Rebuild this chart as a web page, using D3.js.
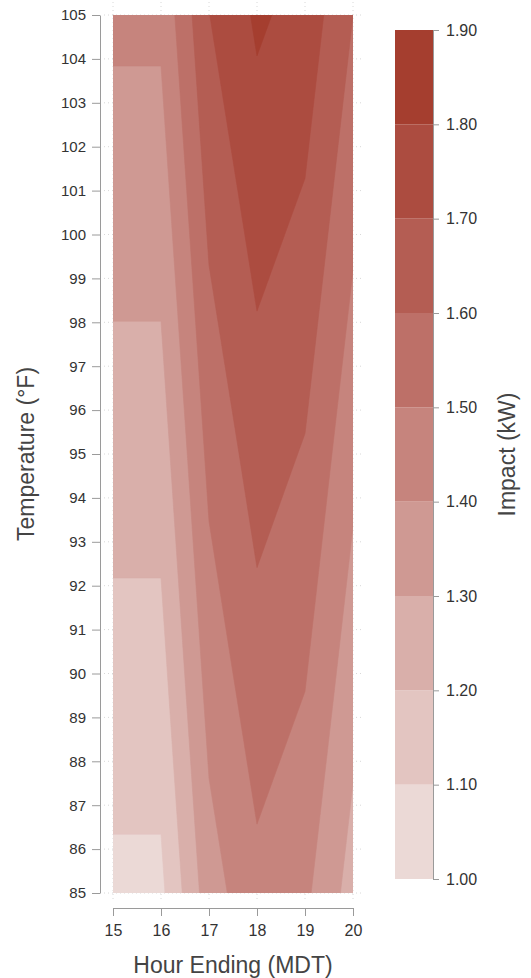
<!DOCTYPE html>
<html>
<head>
<meta charset="utf-8">
<script src="https://cdn.jsdelivr.net/npm/d3@7"></script>
<style>
  body { margin: 0; background: #fff; }
  svg { display: block; font-family: "Liberation Sans", Arial, sans-serif; }
  .tick text { fill: #333; }
</style>
</head>
<body>
<svg id="chart" width="531" height="978"></svg>
<script>
// grid of the contour: hour ending (x) by temperature (y)
const hours = [15, 16, 17, 18, 19, 20];
const temps = [85, 90, 95, 100, 105];

// impact (kW) for each temperature row, one value per hour
const impact85  = [1.077, 1.077, 1.355, 1.473, 1.421, 1.257];
const impact90  = [1.163, 1.163, 1.441, 1.559, 1.507, 1.343];
const impact95  = [1.248, 1.248, 1.526, 1.644, 1.592, 1.428];
const impact100 = [1.334, 1.334, 1.612, 1.730, 1.678, 1.514];
const impact105 = [1.420, 1.420, 1.698, 1.816, 1.764, 1.600];
const impactRows = [impact85, impact90, impact95, impact100, impact105];

// contour levels and band colours (lowest band first)
const levels = [1.0, 1.1, 1.2, 1.3, 1.4, 1.5, 1.6, 1.7, 1.8, 1.9];
const bandColors = ["#ebd9d6", "#e3c5c1", "#d9afaa", "#cf9993", "#c6847d",
                    "#bd7068", "#b45d53", "#ac4c40", "#a53e2f"];

const xTicks = [15, 16, 17, 18, 19, 20];
const yTicks = d3.range(85, 106);
const legendTicks = [1.0, 1.1, 1.2, 1.3, 1.4, 1.5, 1.6, 1.7, 1.8, 1.9];

const svg = d3.select("#chart");

const x = d3.scaleLinear().domain([15, 20]).range([113, 353]);
const y = d3.scaleLinear().domain([85, 105]).range([893, 15]);

// dotted panel grid (only shows around the edges of the filled area)
const grid = svg.append("g");
grid.selectAll("line.vg").data(xTicks).join("line")
  .attr("x1", d => x(d)).attr("x2", d => x(d))
  .attr("y1", 2).attr("y2", 902)
  .attr("stroke", "#d8d8d8").attr("stroke-dasharray", "1,3");
grid.selectAll("line.hg").data(yTicks).join("line")
  .attr("x1", 104).attr("x2", 362)
  .attr("y1", d => y(d)).attr("y2", d => y(d))
  .attr("stroke", "#d8d8d8").attr("stroke-dasharray", "1,3");

// resample the coarse grid bilinearly so d3.contours draws straight-edged bands
const nx = 241, ny = 401;
function interp(h, t) {
  let i = Math.min(hours.length - 2, d3.bisectRight(hours, h) - 1);
  let j = Math.min(temps.length - 2, d3.bisectRight(temps, t) - 1);
  i = Math.max(0, i); j = Math.max(0, j);
  const u = (h - hours[i]) / (hours[i + 1] - hours[i]);
  const v = (t - temps[j]) / (temps[j + 1] - temps[j]);
  const a = impactRows[j][i], b = impactRows[j][i + 1];
  const c = impactRows[j + 1][i], d = impactRows[j + 1][i + 1];
  return (a * (1 - u) + b * u) * (1 - v) + (c * (1 - u) + d * u) * v;
}
const values = new Array(nx * ny);
for (let j = 0; j < ny; j++) {
  const t = 85 + 20 * j / (ny - 1);
  for (let i = 0; i < nx; i++) {
    const h = 15 + 5 * i / (nx - 1);
    values[j * nx + i] = interp(h, t);
  }
}

const contours = d3.contours().size([nx, ny]).thresholds(levels.slice(0, -1))(values);

// grid index space -> data space -> pixels
const gx = p => x(15 + 5 * (p - 0.5) / (nx - 1));
const gy = p => y(85 + 20 * (p - 0.5) / (ny - 1));
const path = d3.geoPath(d3.geoTransform({
  point: function(px, py) { this.stream.point(gx(px), gy(py)); }
}));

svg.append("clipPath").attr("id", "plotClip")
  .append("rect")
  .attr("x", x(15)).attr("y", y(105))
  .attr("width", x(20) - x(15)).attr("height", y(85) - y(105));

const plot = svg.append("g").attr("clip-path", "url(#plotClip)");
plot.append("rect")
  .attr("x", x(15)).attr("y", y(105))
  .attr("width", x(20) - x(15)).attr("height", y(85) - y(105))
  .attr("fill", bandColors[0]);
plot.selectAll("path").data(contours).join("path")
  .attr("d", path)
  .attr("fill", (d, i) => bandColors[i])
  .attr("stroke", (d, i) => bandColors[i])
  .attr("stroke-width", 0.6);

// axes
const yAxis = svg.append("g").attr("transform", "translate(100,0)")
  .call(d3.axisLeft(y).tickValues(yTicks).tickFormat(d3.format("d"))
    .tickSize(8).tickSizeOuter(0).tickPadding(6));
const xAxis = svg.append("g").attr("transform", "translate(0,908)")
  .call(d3.axisBottom(x).tickValues(xTicks).tickFormat(d3.format("d"))
    .tickSize(8).tickSizeOuter(0).tickPadding(9));
[yAxis, xAxis].forEach(a => {
  a.selectAll("path, line").attr("stroke", "#9a9a9a");
  a.selectAll("text").attr("fill", "#333");
});
yAxis.selectAll("text").attr("font-size", 15);
xAxis.selectAll("text").attr("font-size", 16);

svg.append("text")
  .attr("transform", `translate(34,${(y(85) + y(105)) / 2}) rotate(-90)`)
  .attr("text-anchor", "middle")
  .attr("font-size", 23).attr("fill", "#444")
  .text("Temperature (°F)");
svg.append("text")
  .attr("x", x(17.5)).attr("y", 973)
  .attr("text-anchor", "middle")
  .attr("font-size", 23).attr("fill", "#444")
  .text("Hour Ending (MDT)");

// colour bar legend
const lg = d3.scaleLinear().domain([1.0, 1.9]).range([879, 30]);
const legend = svg.append("g");
legend.selectAll("rect").data(bandColors).join("rect")
  .attr("x", 395).attr("width", 38)
  .attr("y", (d, i) => lg(levels[i + 1]))
  .attr("height", (d, i) => lg(levels[i]) - lg(levels[i + 1]))
  .attr("fill", d => d);
const lAxis = svg.append("g").attr("transform", "translate(433,0)")
  .call(d3.axisRight(lg).tickValues(legendTicks).tickFormat(d3.format(".2f"))
    .tickSize(6).tickSizeOuter(0).tickPadding(7));
lAxis.selectAll("path, line").attr("stroke", "#9a9a9a");
lAxis.selectAll("text").attr("font-size", 16).attr("fill", "#333");

svg.append("text")
  .attr("transform", `translate(515,${(lg(1.0) + lg(1.9)) / 2}) rotate(-90)`)
  .attr("text-anchor", "middle")
  .attr("font-size", 23).attr("fill", "#444")
  .text("Impact (kW)");
</script>
</body>
</html>
